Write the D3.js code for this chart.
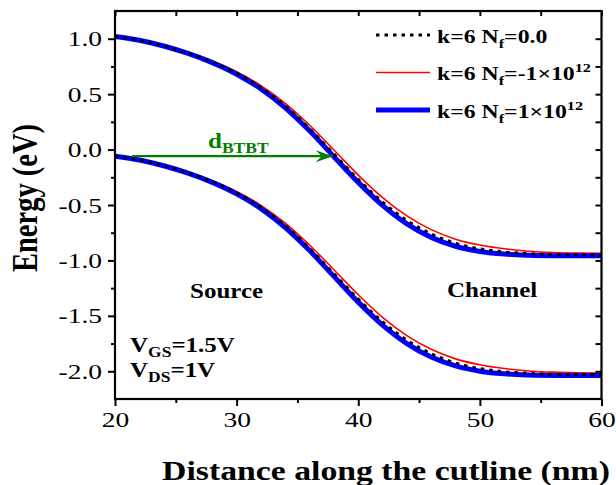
<!DOCTYPE html>
<html><head><meta charset="utf-8">
<script src="https://cdn.jsdelivr.net/npm/d3@7"></script>
<style>body{margin:0;background:#fff}svg{display:block}</style>
</head><body>
<svg id="c" width="616" height="485"></svg>
<script>
// ---------- data ----------
const xPos = [20,22,24,26,28,30,32,34,36,38,40,42,44,46,48,50,52,54,56,58,60];
const cbNf0   = [1.02,0.987,0.936,0.871,0.790,0.689,0.559,0.393,0.189,-0.040,-0.269,-0.474,-0.640,-0.762,-0.845,-0.896,-0.924,-0.939,-0.947,-0.950,-0.951];
const vbNf0   = [-0.06,-0.093,-0.144,-0.209,-0.290,-0.391,-0.521,-0.687,-0.891,-1.120,-1.349,-1.554,-1.720,-1.842,-1.925,-1.976,-2.004,-2.019,-2.027,-2.030,-2.031];
const cbNfNeg = [1.02,0.989,0.940,0.877,0.799,0.702,0.577,0.417,0.219,-0.004,-0.230,-0.433,-0.598,-0.722,-0.808,-0.861,-0.895,-0.917,-0.928,-0.933,-0.935];
const vbNfNeg = [-0.06,-0.091,-0.140,-0.203,-0.281,-0.378,-0.503,-0.663,-0.861,-1.084,-1.310,-1.513,-1.678,-1.802,-1.888,-1.941,-1.975,-1.997,-2.008,-2.013,-2.015];
const cbNfPos = [1.02,0.986,0.934,0.867,0.784,0.680,0.547,0.377,0.169,-0.064,-0.296,-0.503,-0.670,-0.792,-0.872,-0.919,-0.943,-0.953,-0.957,-0.958,-0.958];
const vbNfPos = [-0.06,-0.094,-0.146,-0.213,-0.296,-0.400,-0.533,-0.703,-0.911,-1.144,-1.376,-1.583,-1.750,-1.872,-1.952,-1.999,-2.023,-2.033,-2.037,-2.038,-2.038];
const xTicks = [20,30,40,50,60];
const xMinor = [25,35,45,55];
const yTicks = [1.0,0.5,0.0,-0.5,-1.0,-1.5,-2.0];
const yMinor = [0.75,0.25,-0.25,-0.75,-1.25,-1.75];
const arrowFrom = [21.4,-0.06];
const arrowTo = [37.9,-0.06];

// ---------- layout ----------
const svg = d3.select("#c");
const L=115, R=601.5, T=11, B=399;
const x = d3.scaleLinear().domain([20,60]).range([L,R]);
const y = d3.scaleLinear().domain([-2.25,1.25]).range([B,T]);
const FONT = "'Liberation Serif','Times New Roman',serif";
const SX = 1.25;

function stext(px, py, anchor, size, weight, fill){
  return svg.append("text")
    .attr("transform", `translate(${px},${py}) scale(${SX},1)`)
    .attr("text-anchor", anchor)
    .style("font-family", FONT).style("font-size", size+"px")
    .style("font-weight", weight).attr("fill", fill||"#000");
}

// ---------- curves ----------
const line = d3.line().x(d=>x(d[0])).y(d=>y(d[1])).curve(d3.curveMonotoneX);
const series = [
  {cb:cbNf0,  vb:vbNf0,  color:"#000", w:3,   dash:"3.5,5"},
  {cb:cbNfNeg,vb:vbNfNeg,color:"#ff0000", w:1.6, dash:null},
  {cb:cbNfPos,vb:vbNfPos,color:"#0000ff", w:5,   dash:null}
];
const order = [1,2,0];
order.forEach(i=>{
  const s = series[i];
  [s.cb, s.vb].forEach(arr=>{
    svg.append("path").datum(xPos.map((xv,k)=>[xv,arr[k]]))
      .attr("d", line).attr("fill","none").attr("stroke", s.color)
      .attr("stroke-width", s.w).attr("stroke-dasharray", s.dash);
  });
});

// ---------- arrow ----------
const defs = svg.append("defs");
defs.append("marker").attr("id","ah").attr("viewBox","-18 -8 20 16")
  .attr("refX",0).attr("refY",0).attr("markerWidth",20).attr("markerHeight",16)
  .attr("markerUnits","userSpaceOnUse").attr("orient","auto")
  .append("path").attr("d","M0,0 L-17,-6 L-11,0 L-17,6 Z").attr("fill","#008000");
svg.append("line")
  .attr("x1", x(arrowFrom[0])).attr("y1", y(arrowFrom[1]))
  .attr("x2", x(arrowTo[0])).attr("y2", y(arrowTo[1]))
  .attr("stroke","#008000").attr("stroke-width",2.2).attr("marker-end","url(#ah)");
{
  const t = stext(208, 147.5, "start", 20, "bold", "#008000");
  t.append("tspan").text("d");
  t.append("tspan").attr("dy",5).style("font-size","14px").text("BTBT");
}

// ---------- axes ----------
function styleAxis(g){ g.select(".domain").remove(); g.selectAll("line").attr("stroke","#000").attr("stroke-width",2); }
const gL = svg.append("g").attr("transform",`translate(${L},0)`)
  .call(d3.axisLeft(y).tickValues(yTicks).tickSize(7).tickFormat(d3.format(".1f")));
styleAxis(gL);
gL.selectAll("text").attr("x",-10.4).attr("transform",`scale(${SX},1)`)
  .style("font-family",FONT).style("font-size","22px").attr("fill","#000");
gL.selectAll("text").text(d=>d3.format(".1f")(d).replace("−","-"));
const gLm = svg.append("g").attr("transform",`translate(${L},0)`)
  .call(d3.axisLeft(y).tickValues(yMinor).tickSize(4).tickFormat(""));
styleAxis(gLm);

const gB = svg.append("g").attr("transform",`translate(0,${B})`)
  .call(d3.axisBottom(x).tickValues(xTicks).tickSize(7).tickFormat(d3.format("d")));
styleAxis(gB);
gB.selectAll("text").attr("y",12.5).attr("transform",`scale(${SX},1)`)
  .style("font-family",FONT).style("font-size","22px").attr("fill","#000");
const gBm = svg.append("g").attr("transform",`translate(0,${B})`)
  .call(d3.axisBottom(x).tickValues(xMinor).tickSize(4).tickFormat(""));
styleAxis(gBm);

const gT = svg.append("g").attr("transform",`translate(0,${T})`)
  .call(d3.axisBottom(x).tickValues(xTicks.concat(xMinor)).tickSize(5).tickFormat(""));
styleAxis(gT);
const gR = svg.append("g").attr("transform",`translate(${R},0)`)
  .call(d3.axisLeft(y).tickValues(yTicks.concat(yMinor)).tickSize(6).tickFormat(""));
styleAxis(gR);

svg.append("rect").attr("x",L).attr("y",T).attr("width",R-L).attr("height",B-T)
  .attr("fill","none").attr("stroke","#000").attr("stroke-width",2.2);

// ---------- axis titles ----------
stext(386, 480, "middle", 27, "bold").text("Distance along the cutline (nm)");
svg.append("text").attr("transform",`translate(37,198) rotate(-90) scale(1,${SX})`)
  .attr("text-anchor","middle").style("font-family",FONT).style("font-size","28.5px")
  .style("font-weight","bold").text("Energy (eV)");

// ---------- annotations ----------
stext(190, 298, "start", 20, "bold").text("Source");
stext(447, 297, "start", 20, "bold").text("Channel");
{
  const t = stext(130, 352, "start", 20, "bold");
  t.append("tspan").text("V");
  t.append("tspan").attr("dy",5).style("font-size","14px").text("GS");
  t.append("tspan").attr("dy",-5).text("=1.5V");
  const u = stext(130, 377, "start", 20, "bold");
  u.append("tspan").text("V");
  u.append("tspan").attr("dy",5).style("font-size","14px").text("DS");
  u.append("tspan").attr("dy",-5).text("=1V");
}

// ---------- legend ----------
const legendRows = [
  {s:0, parts:[["k=6 N",0],["f",1],["=0.0",-1]]},
  {s:1, parts:[["k=6 N",0],["f",1],["=-1×10",-1],["12",2]]},
  {s:2, parts:[["k=6 N",0],["f",1],["=1×10",-1],["12",2]]}
];
const legY = [35, 72.5, 110];
legendRows.forEach((r,i)=>{
  const s = series[r.s];
  svg.append("line").attr("x1",376).attr("x2",430).attr("y1",legY[i]).attr("y2",legY[i])
    .attr("stroke",s.color).attr("stroke-width",s.w).attr("stroke-dasharray",s.dash);
  const t = stext(437, legY[i]+7.5, "start", 19, "bold");
  r.parts.forEach(p=>{
    const ts = t.append("tspan").text(p[0]);
    if(p[1]===1){ ts.attr("dy",5).style("font-size","13px"); }
    else if(p[1]===-1){ ts.attr("dy",-5); }
    else if(p[1]===2){ ts.attr("dy",-8).style("font-size","13px"); }
  });
});
</script>
</body></html>
